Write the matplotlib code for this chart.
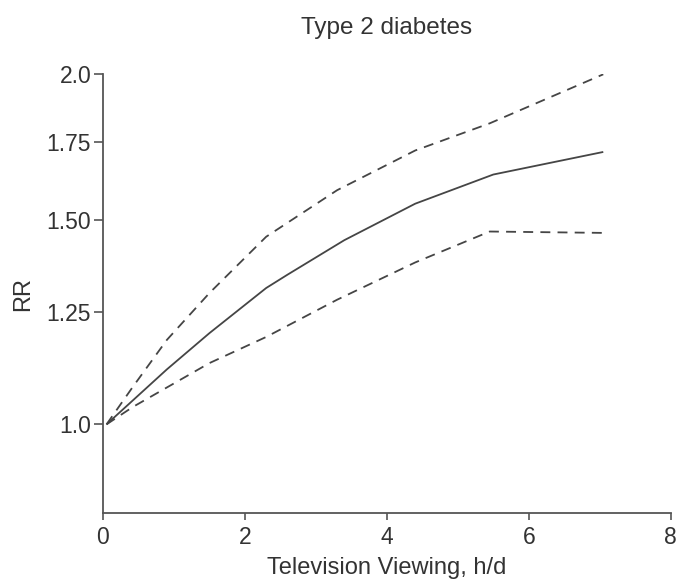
import matplotlib
matplotlib.use("Agg")
import matplotlib.pyplot as plt
from matplotlib.ticker import FixedLocator, FixedFormatter, NullLocator

plt.rcParams['font.family'] = ['Liberation Sans', 'DejaVu Sans']

# Data
hours = [0.05, 0.9, 1.5, 2.3, 2.6, 3.4, 4.4, 5.5, 7.05]
rr = [1.0, 1.115, 1.198, 1.31, 1.345, 1.44, 1.548, 1.64, 1.715]
upper_hours = [0.05, 0.42, 0.9, 1.5, 2.3, 3.3, 4.4, 5.45, 7.05]
upper = [1.0, 1.077, 1.182, 1.297, 1.45, 1.59, 1.72, 1.815, 2.0]
lower_hours = [0.05, 0.42, 1.5, 2.3, 3.3, 4.4, 5.45, 7.05]
lower = [1.0, 1.035, 1.129, 1.189, 1.28, 1.378, 1.465, 1.461]

yticks = [1.0, 1.25, 1.5, 1.75, 2.0]
ytick_labels = ["1.0", "1.25", "1.50", "1.75", "2.0"]
xticks = [0, 2, 4, 6, 8]

line_col = "#454545"
text_col = "#333333"
spine_col = "#555555"

fig = plt.figure(figsize=(6.78, 5.81), dpi=100)
ax = fig.add_axes([0.1519, 0.1170, 0.9892 - 0.1519, 0.8721 - 0.1170])

ax.plot(hours, rr, color=line_col, lw=1.3, solid_capstyle='butt')
ax.plot(upper_hours, upper, color=line_col, lw=1.3, dashes=(5.5, 4))
ax.plot(lower_hours, lower, color=line_col, lw=1.3, dashes=(5.5, 4))

ax.set_yscale('log')
ax.set_ylim(0.839, 2.0)
ax.set_xlim(0, 8)
ax.yaxis.set_major_locator(FixedLocator(yticks))
ax.yaxis.set_major_formatter(FixedFormatter(ytick_labels))
ax.yaxis.set_minor_locator(NullLocator())
ax.set_xticks(xticks)
ax.set_xticklabels([str(t) for t in xticks])

for s in ['top', 'right']:
    ax.spines[s].set_visible(False)
for s in ['left', 'bottom']:
    ax.spines[s].set_color(spine_col)
    ax.spines[s].set_linewidth(1.3)

ax.tick_params(axis='x', direction='out', length=5, width=1.2, color=spine_col,
               labelsize=16.5, labelcolor=text_col, pad=4)
ax.tick_params(axis='y', direction='out', length=6.5, width=1.2, color=spine_col,
               labelsize=16.5, labelcolor=text_col, pad=2)

ax.set_xlabel("Television Viewing, h/d", fontsize=17, color=text_col, labelpad=6)
ax.set_ylabel("RR", fontsize=17, color=text_col, labelpad=9)
ax.set_title("Type 2 diabetes", fontsize=17.5, color=text_col, pad=29)

fig.savefig("out.png", dpi=100)
